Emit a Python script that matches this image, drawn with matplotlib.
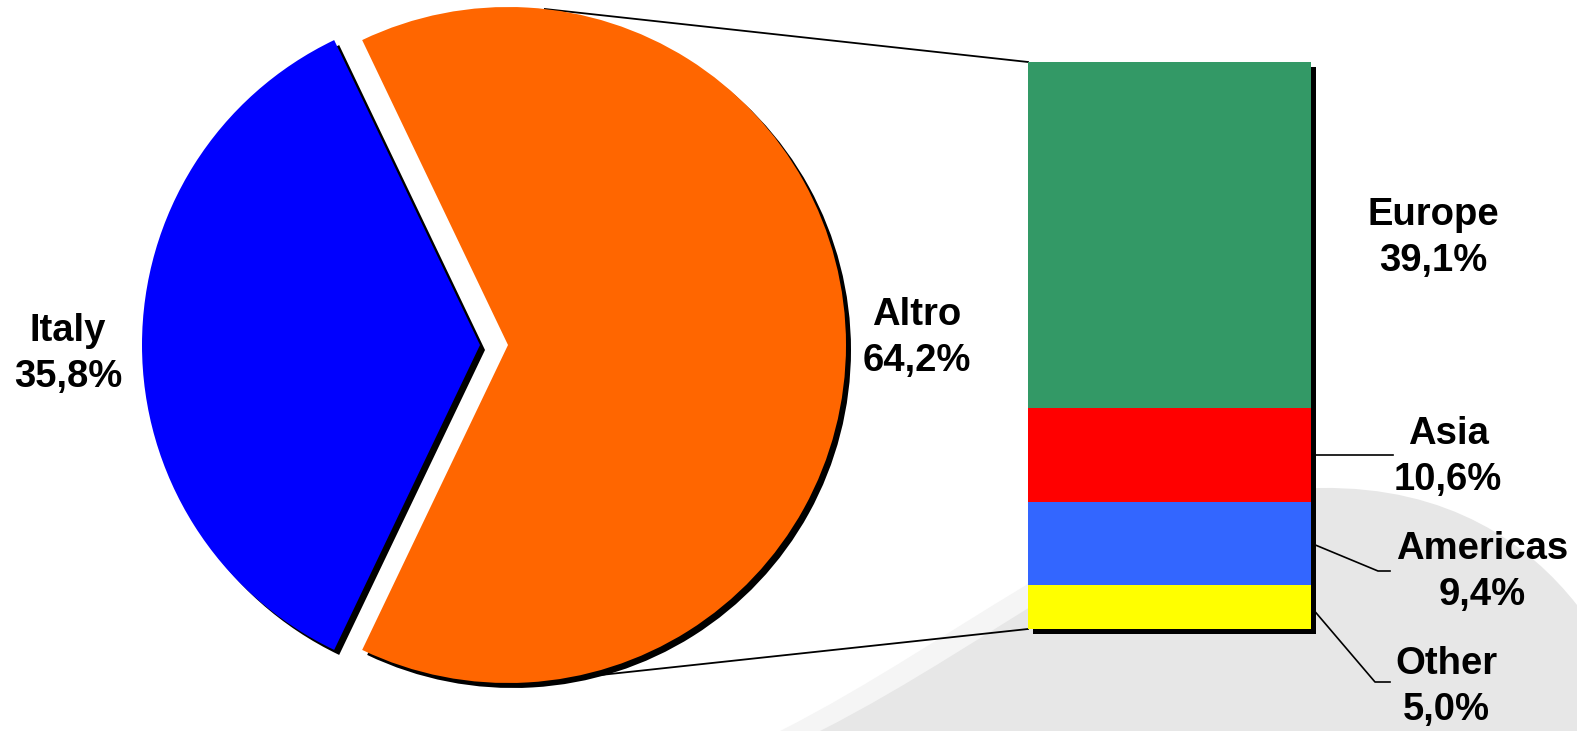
import numpy as np
import matplotlib
matplotlib.use("Agg")
import matplotlib.pyplot as plt
from matplotlib.patches import Rectangle, PathPatch
from matplotlib.path import Path
from matplotlib.transforms import offset_copy

# ---------------- data ----------------
pie_labels = ["Italy", "Altro"]
pie_values = [35.8, 64.2]
pie_colors = ["#0000FF", "#FF6600"]

bar_labels = ["Europe", "Asia", "Americas", "Other"]
bar_values = [39.1, 10.6, 9.4, 5.0]
bar_colors = ["#339966", "#FF0000", "#3366FF", "#FFFF00"]

# ---------------- layout (pixels) ----------------
W, H = 1577, 731
fig = plt.figure(figsize=(W / 100, H / 100), dpi=100)
ax = fig.add_axes([0, 0, 1, 1])

def Y(yi):  # image y -> data y
    return H - yi

FONT = dict(family=["Liberation Sans", "DejaVu Sans"], fontweight="bold",
            fontsize=27.5, color="black", ha="center", va="center",
            multialignment="center", linespacing=1.33)

def fmt(v):
    return f"{v:.1f}%".replace(".", ",")

# background grey swoosh
verts = [(820, Y(731)), (1000, Y(640)), (1170, Y(490)), (1320, Y(488)),
         (1450, Y(486)), (1530, Y(545)), (1577, Y(605)),
         (1577, Y(731)), (820, Y(731))]
codes = [Path.MOVETO, Path.CURVE4, Path.CURVE4, Path.CURVE4,
         Path.CURVE4, Path.CURVE4, Path.CURVE4, Path.LINETO, Path.CLOSEPOLY]
fringe = [(x - 40, y) for x, y in verts]
ax.add_patch(PathPatch(Path(fringe, codes), facecolor="#f5f5f5", edgecolor="none", zorder=0))
ax.add_patch(PathPatch(Path(verts, codes), facecolor="#e7e7e7", edgecolor="none", zorder=0.1))

# ---------------- pie ----------------
cx, cy, R = 508, Y(345), 338
explode_px = 28
explode = [explode_px, 0]          # pie() offsets wedges in data units
start = 180 - pie_values[0] / sum(pie_values) * 360 / 2
sh = 5
ax.pie(pie_values, colors=["black", "black"], explode=explode, startangle=start,
       center=(cx + sh, cy - sh), radius=R, wedgeprops=dict(linewidth=0, zorder=2))
ax.pie(pie_values, colors=pie_colors, explode=explode, startangle=start,
       center=(cx, cy), radius=R, wedgeprops=dict(linewidth=0, zorder=3))

# ---------------- bar ----------------
bx0, bx1, by0, by1 = 1028, 1311, 62, 629
total = sum(bar_values)
bar_ax = fig.add_axes([bx0 / W, (H - by1) / H, (bx1 - bx0) / W, (by1 - by0) / H])
bar_ax.set_xlim(0, 1)
bar_ax.set_ylim(total, 0)
bar_ax.axis("off")
bar_ax.patch.set_alpha(0)
shadow = Rectangle((0, 0), 1, total, facecolor="black", edgecolor="none",
                   transform=offset_copy(bar_ax.transData, fig=fig, x=5, y=-5, units="dots"),
                   clip_on=False, zorder=1)
bar_ax.add_patch(shadow)
bottoms = np.concatenate([[0], np.cumsum(bar_values)[:-1]])
bar_ax.bar([0.5] * len(bar_values), bar_values, width=1, bottom=bottoms,
           color=bar_colors, linewidth=0, zorder=2)

# ---------------- connector tangent lines ----------------
def tangent(px, py, upper):
    dx, dy = px - cx, py - cy
    d = np.hypot(dx, dy)
    a = np.arctan2(dy, dx)
    b = np.arccos(R / d)
    t = a + b if upper else a - b
    return cx + R * np.cos(t), cy + R * np.sin(t)

for (px, py), up in [((bx0, Y(by0)), True), ((bx0, Y(by1)), False)]:
    tx, ty = tangent(px, py, up)
    ax.plot([tx, px], [ty, py], color="black", lw=1.3, zorder=1)

# ---------------- leader lines for bar segments ----------------
scale = (by1 - by0) / total
mids = [by0 + (b + v / 2) * scale for b, v in zip(bottoms, bar_values)]
xe = bx1
ax.plot([xe, 1393], [Y(mids[1]), Y(mids[1])], color="black", lw=1.2, zorder=4)
ax.plot([xe, 1378, 1390], [Y(mids[2]), Y(571), Y(571)], color="black", lw=1.2, zorder=4)
ax.plot([xe, 1375, 1390], [Y(mids[3]), Y(682), Y(682)], color="black", lw=1.2, zorder=4)

# ---------------- labels ----------------
pie_pos = [(68, 354), (917, 338)]
for lab, v, (x, y) in zip(pie_labels, pie_values, pie_pos):
    ax.text(x, Y(y), f"{lab}\n{fmt(v)}", zorder=5, **FONT)

bar_pos = [(1433, 238), (1448, 457), (1482, 572), (1446, 687)]
for lab, v, (x, y) in zip(bar_labels, bar_values, bar_pos):
    ax.text(x, Y(y), f"{lab}\n{fmt(v)}", zorder=5, **FONT)

ax.set_xlim(0, W)
ax.set_ylim(0, H)
ax.set_aspect("auto")
ax.axis("off")

fig.savefig("out.png", dpi=100, facecolor="white")
